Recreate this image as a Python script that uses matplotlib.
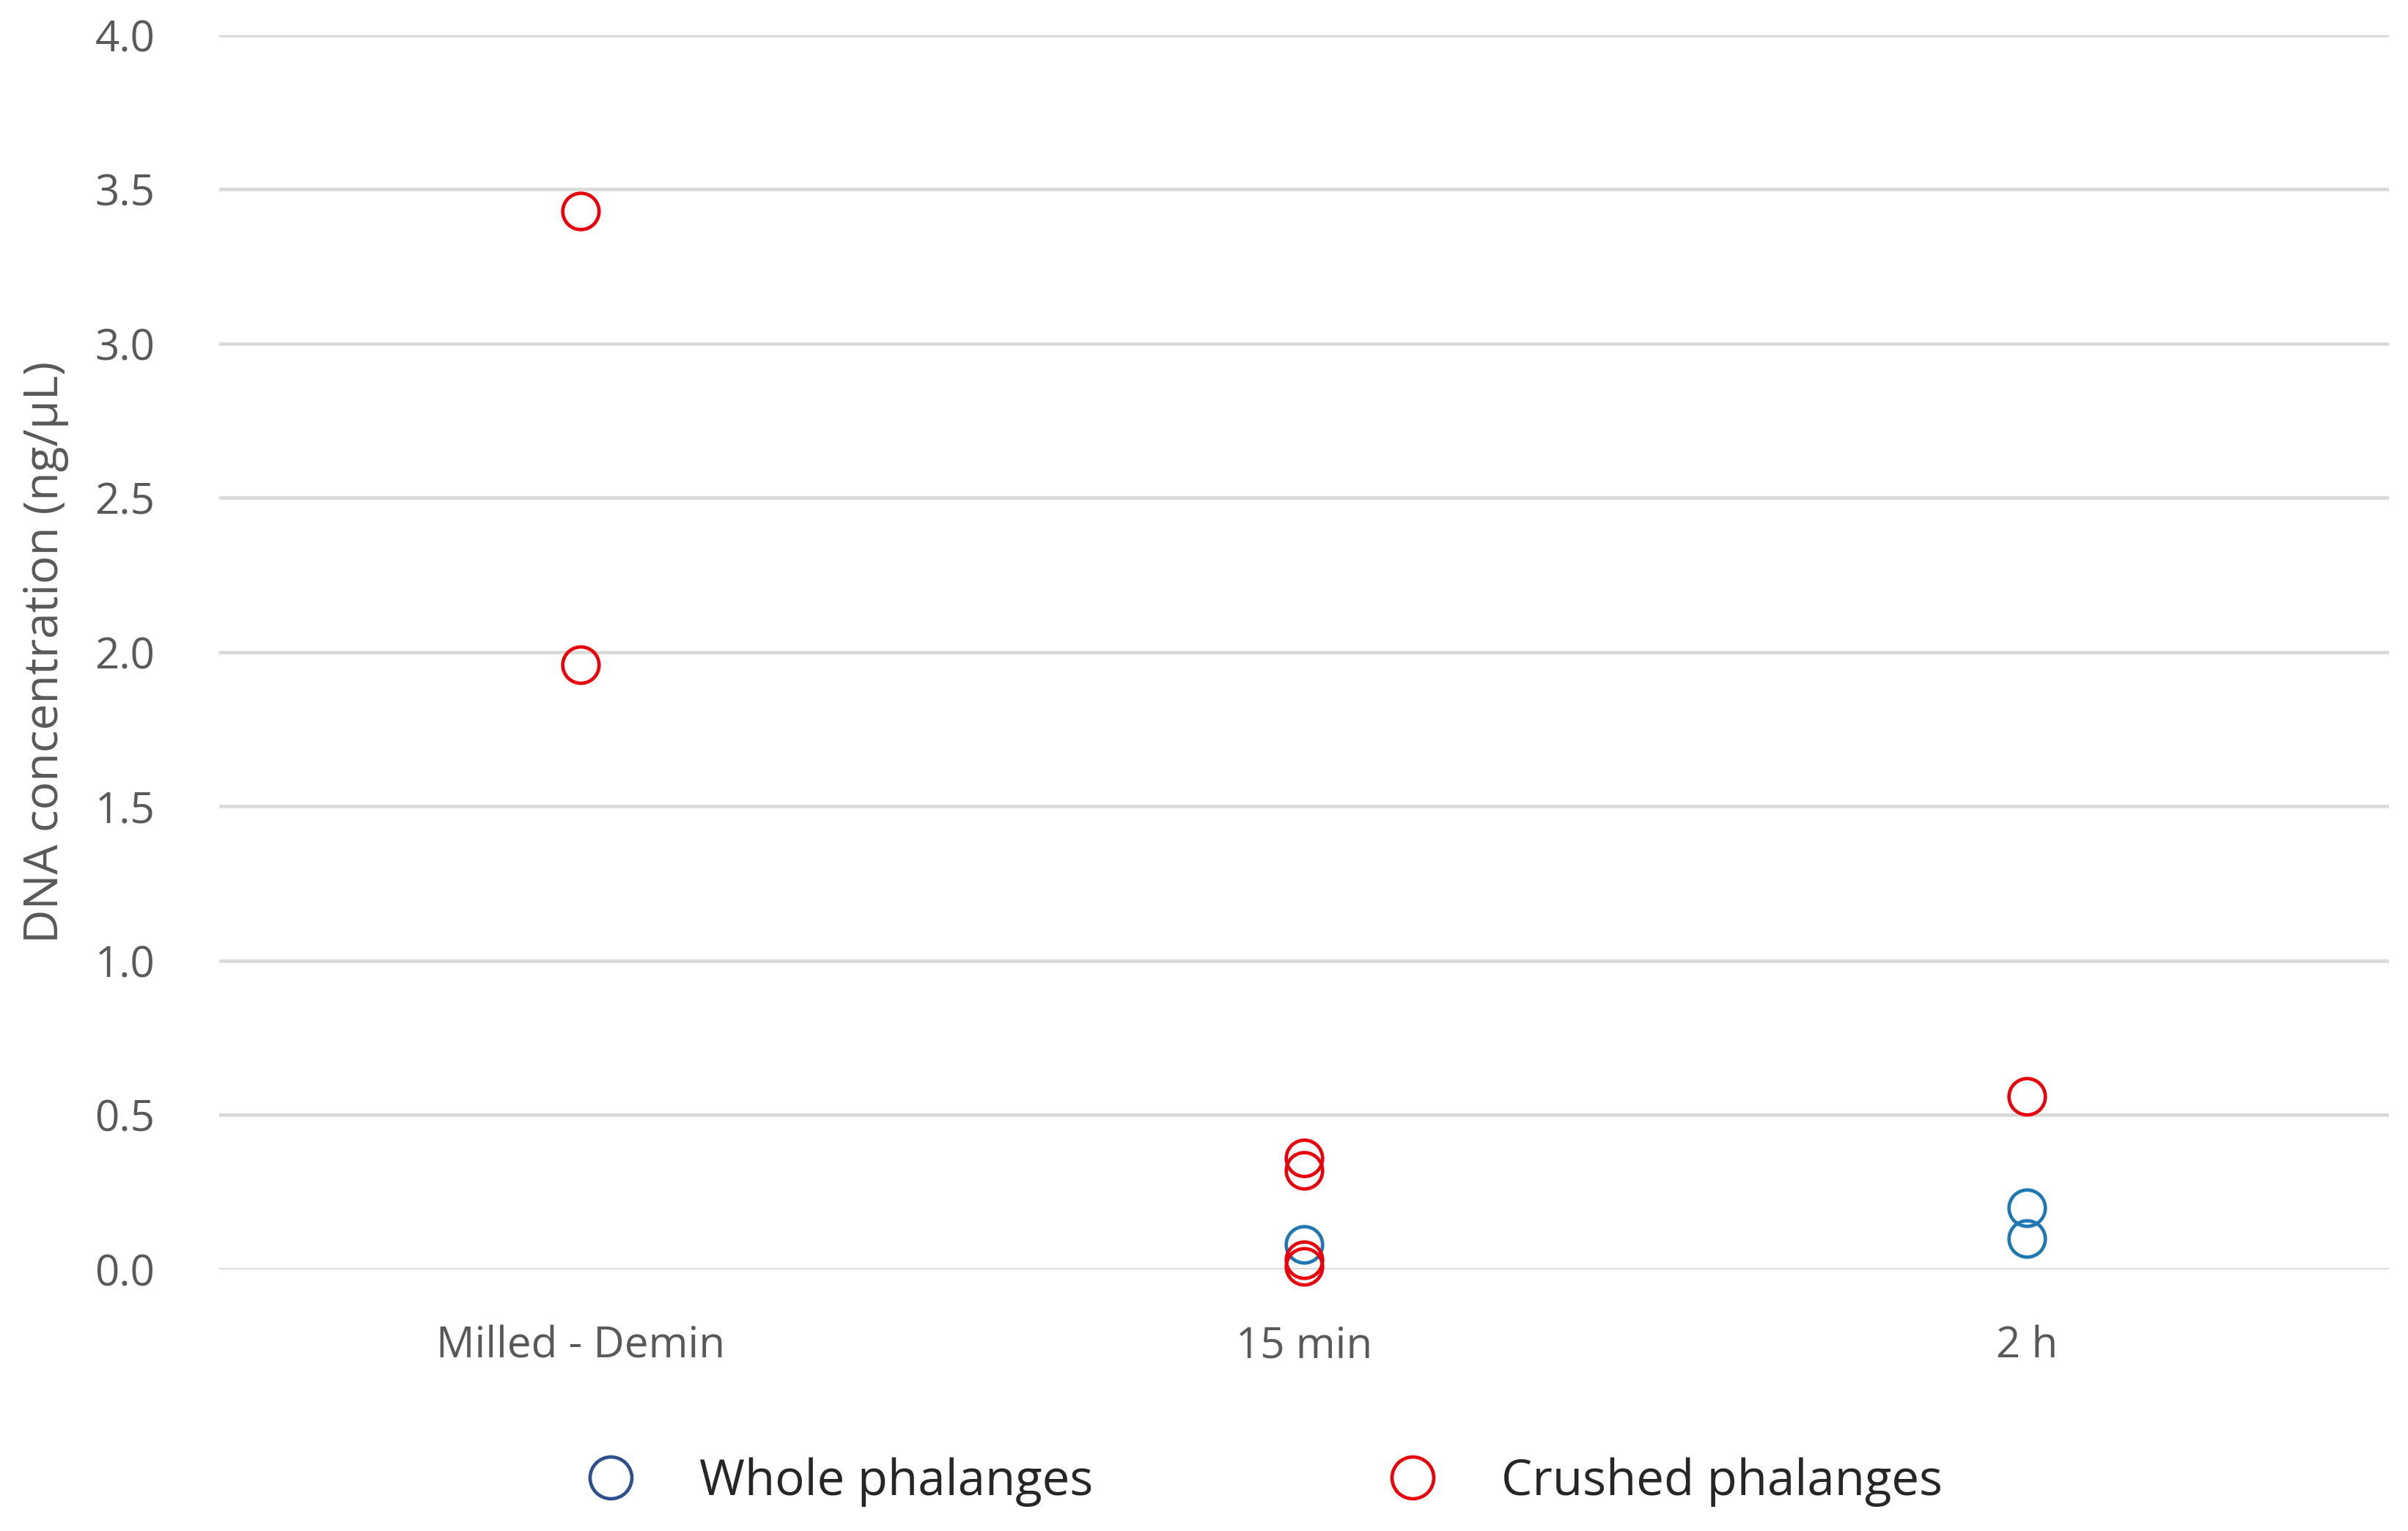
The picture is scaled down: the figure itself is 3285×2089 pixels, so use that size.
import matplotlib.pyplot as plt

plt.rcParams["font.family"] = ["Open Sans", "DejaVu Sans"]

categories = ["Milled - Demin", "15 min", "2 h"]
whole_cat = [1, 2, 2]
whole_vals = [0.08, 0.20, 0.10]
crushed_cat = [0, 0, 1, 1, 1, 1, 2]
crushed_vals = [3.43, 1.96, 0.36, 0.32, 0.03, 0.01, 0.56]

fig = plt.figure(figsize=(15.643, 9.948), dpi=210)
ax = fig.add_axes([0.091, 0.171, 0.901, 0.806])

ms = 17
ax.plot([c + 0.5 for c in whole_cat], whole_vals, "o", ms=ms, mfc="none",
        mec="#1f77b4", mew=1.6, ls="none", label="Whole phalanges", zorder=3, clip_on=False)
ax.plot([c + 0.5 for c in crushed_cat], crushed_vals, "o", ms=ms, mfc="none",
        mec="#e8000b", mew=1.6, ls="none", label="Crushed phalanges", zorder=3, clip_on=False)

ax.set_xlim(0, 3)
ax.set_ylim(0, 4.0)
ax.set_yticks([i * 0.5 for i in range(9)])
ax.set_yticklabels([f"{i * 0.5:.1f}" for i in range(9)])
ax.set_xticks([0.5, 1.5, 2.5])
ax.set_xticklabels(categories)
ax.tick_params(length=0, labelsize=20, colors="#595959", pad=30)
ax.tick_params(axis="x", pad=26)
for s in ax.spines.values():
    s.set_visible(False)
ax.grid(axis="y", color="#d9d9d9", lw=1.6)
ax.set_axisbelow(True)
ax.set_ylabel("DNA concentration (ng/\u00b5L)", fontsize=22, color="#595959", labelpad=12)

leg = fig.legend(loc="center", bbox_to_anchor=(0.52, 0.032), ncol=2, frameon=False,
                 fontsize=23, markerscale=1.15, columnspacing=5.5, handletextpad=0.8)
leg.legend_handles[0].set_markeredgecolor("#2f4f8f")
for t in leg.get_texts():
    t.set_color("#262626")

fig.savefig("out.png", dpi=210)
